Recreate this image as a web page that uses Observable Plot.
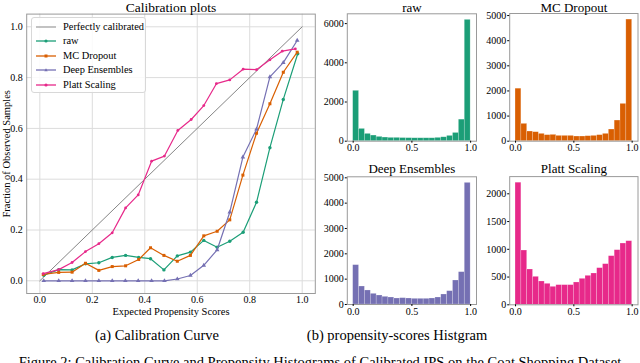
<!DOCTYPE html>
<html>
<head>
<meta charset="utf-8">
<script src="https://cdn.jsdelivr.net/npm/d3@7"></script>
<script src="https://cdn.jsdelivr.net/npm/@observablehq/plot@0.6"></script>
<style>
  html, body { margin: 0; padding: 0; background: white; }
  body { width: 640px; height: 363px; overflow: hidden; position: relative; font-family: "Liberation Serif", "Times New Roman", serif; color: #000; }
  .pane { position: absolute; }
  .cap { position: absolute; white-space: nowrap; font-size: 14px; }
  .legend { position: absolute; left: 31px; top: 17px; width: 113px; height: 74px; border: 1px solid #d8d8d8; border-radius: 3px; background: rgba(255,255,255,0.85); font-size: 10.4px; }
  .legend .row { position: absolute; left: 0; height: 14px; line-height: 14px; }
  .legend svg { position: absolute; left: 2px; top: 0; }
  .legend span { position: absolute; left: 31px; top: 0; white-space: nowrap; }
</style>
</head>
<body>
<script>
// ---------- Data ----------
const seriesNames = ["raw", "MC Dropout", "Deep Ensembles", "Platt Scaling"];
const seriesColors = ["#1b9e77", "#d95f02", "#7570b3", "#e7298a"];
const seriesSymbols = ["circle", "square", "triangle", "circle"];
const perfectName = "Perfectly calibrated";
const perfect = [0, 1];

const rawX = [0.015,0.072,0.123,0.174,0.225,0.276,0.327,0.377,0.422,0.473,0.524,0.574,0.625,0.676,0.724,0.775,0.826,0.877,0.928,0.983];
const rawY = [0.022,0.044,0.043,0.067,0.071,0.092,0.100,0.092,0.087,0.043,0.098,0.113,0.159,0.132,0.156,0.191,0.309,0.524,0.714,0.894];
const mcX  = [0.013,0.072,0.123,0.174,0.225,0.276,0.327,0.377,0.422,0.473,0.524,0.574,0.625,0.676,0.724,0.774,0.826,0.877,0.928,0.981];
const mcY  = [0.025,0.033,0.034,0.069,0.041,0.056,0.059,0.084,0.130,0.100,0.077,0.100,0.177,0.195,0.240,0.416,0.581,0.697,0.821,0.900];
const deX  = [0.015,0.072,0.123,0.174,0.225,0.276,0.326,0.375,0.426,0.475,0.524,0.574,0.625,0.676,0.724,0.774,0.826,0.877,0.928,0.981];
const deY  = [0,0,0,0,0,0,0,0,0,0,0.007,0.021,0.061,0.122,0.270,0.487,0.597,0.803,0.859,0.946];
const plX  = [0.013,0.072,0.123,0.174,0.225,0.276,0.327,0.375,0.426,0.475,0.526,0.577,0.625,0.673,0.724,0.775,0.826,0.877,0.924,0.974];
const plY  = [0.028,0.044,0.072,0.115,0.146,0.189,0.287,0.338,0.471,0.491,0.592,0.635,0.690,0.776,0.791,0.833,0.831,0.870,0.904,0.913];

// histogram counts, 20 bins of width 0.05 on [0, 1]
const binStarts = [0,0.05,0.10,0.15,0.20,0.25,0.30,0.35,0.40,0.45,0.50,0.55,0.60,0.65,0.70,0.75,0.80,0.85,0.90,0.95];
const binWidth = 0.05;
const histRaw   = [2570,627,373,288,220,186,170,170,160,155,150,150,150,150,170,200,270,420,1100,6190];
const histMC    = [2090,690,385,358,292,240,252,212,212,212,186,186,199,212,240,292,464,822,1485,4840];
const histDE    = [1553,710,553,421,355,303,276,237,250,237,224,224,224,237,276,395,526,947,1276,4800];
const histPlatt = [2200,978,636,504,420,378,324,354,354,354,402,468,522,564,660,732,876,984,1104,1146];

const calTicks = [0, 0.2, 0.4, 0.6, 0.8, 1.0];
const histXTicks = [0, 0.5, 1.0];
const histYTicks = {
  raw: [0, 2000, 4000, 6000],
  mc: [0, 1000, 2000, 3000, 4000, 5000],
  de: [0, 1000, 2000, 3000, 4000, 5000],
  platt: [0, 500, 1000, 1500, 2000]
};
const texts = {
  calTitle: "Calibration plots",
  xLabel: "Expected Propensity Scores",
  yLabel: "Fraction of Observed Samples",
  capA: "(a) Calibration Curve",
  capB: "(b) propensity-scores Histgram",
  figCap: "Figure 2: Calibration Curve and Propensity Histograms of Calibrated IPS on the Coat Shopping Dataset"
};

// ---------- Helpers ----------
const font = "Liberation Serif, Times New Roman, serif";
function place(node, left, top) {
  const d = document.createElement("div");
  d.className = "pane";
  d.style.left = left + "px";
  d.style.top = top + "px";
  d.appendChild(node);
  document.body.appendChild(d);
}
function caption(text, cx, cy, size) {
  const d = document.createElement("div");
  d.className = "cap";
  d.textContent = text;
  d.style.fontSize = size + "px";
  document.body.appendChild(d);
  const w = d.getBoundingClientRect().width;
  const h = d.getBoundingClientRect().height;
  d.style.left = (cx - w / 2) + "px";
  d.style.top = (cy - h / 2) + "px";
  return d;
}

// ---------- Calibration plot ----------
const calSeries = [[rawX, rawY], [mcX, mcY], [deX, deY], [plX, plY]].map(([xs, ys], i) =>
  xs.map((x, j) => ({x, y: ys[j], s: seriesNames[i]}))
);
const calMarks = [
  Plot.gridX(calTicks, {stroke: "#dcdcdc", strokeOpacity: 1, strokeWidth: 1}),
  Plot.gridY(calTicks, {stroke: "#dcdcdc", strokeOpacity: 1, strokeWidth: 1}),
  Plot.line(perfect, {x: d => d, y: d => d, stroke: "#777", strokeWidth: 0.9})
];
calSeries.forEach((data, i) => {
  calMarks.push(Plot.line(data, {x: "x", y: "y", stroke: seriesColors[i], strokeWidth: 1.2}));
  calMarks.push(Plot.dot(data, {x: "x", y: "y", fill: seriesColors[i], stroke: null, symbol: seriesSymbols[i], r: i === 3 ? 1.4 : 1.7}));
});
calMarks.push(
  Plot.frame({stroke: "#9a9a9a", strokeWidth: 1}),
  Plot.axisX({ticks: calTicks, tickFormat: d3.format(".1f"), tickSize: 0, tickPadding: 2, label: null}),
  Plot.axisY({ticks: calTicks, tickFormat: d3.format(".1f"), tickSize: 0, tickPadding: 4, label: null}),
  Plot.text([texts.calTitle], {frameAnchor: "top", dy: -6.5, lineAnchor: "middle", fontSize: 13.5, fontWeight: "normal", text: d => d}),
  Plot.text([texts.xLabel], {frameAnchor: "bottom", dy: 18, lineAnchor: "middle", fontSize: 10.5, fontWeight: "normal", text: d => d}),
  Plot.text([texts.yLabel], {frameAnchor: "left", dx: -20, rotate: -90, textAnchor: "middle", lineAnchor: "middle", fontSize: 10.5, fontWeight: "normal", text: d => d})
);
const cal = Plot.plot({
  width: 320, height: 320,
  marginLeft: 26.2, marginRight: 5.2, marginTop: 13.6, marginBottom: 27,
  x: {domain: [-0.05, 1.05]},
  y: {domain: [-0.05, 1.05]},
  style: {fontFamily: font, fontSize: "10px", color: "#000", background: "transparent", overflow: "visible"},
  marks: calMarks
});
place(cal, 0, 0);

// legend (HTML)
const leg = document.createElement("div");
leg.className = "legend";
const legItems = [{name: perfectName, color: "#888", sym: null}].concat(
  seriesNames.map((n, i) => ({name: n, color: seriesColors[i], sym: seriesSymbols[i]}))
);
legItems.forEach((it, i) => {
  const row = document.createElement("div");
  row.className = "row";
  row.style.top = (2 + i * 14.4) + "px";
  let marker = "";
  if (it.sym === "circle") marker = `<circle cx="12" cy="7" r="1.6" fill="${it.color}"/>`;
  if (it.sym === "square") marker = `<rect x="10.5" y="5.5" width="3" height="3" fill="${it.color}"/>`;
  if (it.sym === "triangle") marker = `<path d="M12,5.2 L13.7,8.2 L10.3,8.2 Z" fill="${it.color}"/>`;
  row.innerHTML = `<svg width="26" height="14"><line x1="2" x2="22" y1="7" y2="7" stroke="${it.color}" stroke-width="${it.sym ? 1.3 : 1}"/>${marker}</svg><span>${it.name}</span>`;
  leg.appendChild(row);
});
document.body.appendChild(leg);

// ---------- Histograms ----------
function hist(counts, color, title, yTicks, yMax, m, titleDy) {
  const data = binStarts.map((b, i) => ({x1: b, x2: b + binWidth, y: counts[i]}));
  return Plot.plot({
    width: 160, height: 160,
    marginLeft: m.l, marginRight: m.r, marginTop: m.t, marginBottom: m.b,
    x: {domain: [-0.05, 1.05]},
    y: {domain: [0, yMax]},
    style: {fontFamily: font, fontSize: "10px", color: "#000", background: "transparent", overflow: "visible"},
    marks: [
      Plot.rectY(data, {x1: "x1", x2: "x2", y: "y", fill: color, stroke: "white", strokeOpacity: 0.35, strokeWidth: 0.6, inset: 0}),
      Plot.frame({stroke: "#9a9a9a", strokeWidth: 1}),
      Plot.axisX({ticks: histXTicks, tickFormat: d3.format(".1f"), tickSize: 2, tickPadding: 1, label: null}),
      Plot.axisY({ticks: yTicks, tickFormat: d => String(d), tickSize: 2, tickPadding: 1.5, label: null}),
      Plot.text([title], {frameAnchor: "top", dy: titleDy, lineAnchor: "middle", fontSize: 13, fontWeight: "normal", text: d => d})
    ]
  });
}
place(hist(histRaw, seriesColors[0], seriesNames[0], histYTicks.raw, 6500, {l: 26.8, r: 4, t: 13.3, b: 19.3}, -6.3), 320, 0);
place(hist(histMC, seriesColors[1], seriesNames[1], histYTicks.mc, 5082, {l: 29.2, r: 2.5, t: 13, b: 19.3}, -6), 480, 0);
place(hist(histDE, seriesColors[2], seriesNames[2], histYTicks.de, 5040, {l: 26.8, r: 4, t: 16.3, b: 16}, -7.5), 320, 160);
place(hist(histPlatt, seriesColors[3], seriesNames[3], histYTicks.platt, 2310, {l: 29.2, r: 2.5, t: 16.1, b: 15.7}, -7.5), 480, 160);

// ---------- Captions ----------
caption(texts.capA, 157, 335, 14.5);
caption(texts.capB, 397, 335, 14.5);
caption(texts.figCap, 320, 362, 14.5);
</script>
</body>
</html>
